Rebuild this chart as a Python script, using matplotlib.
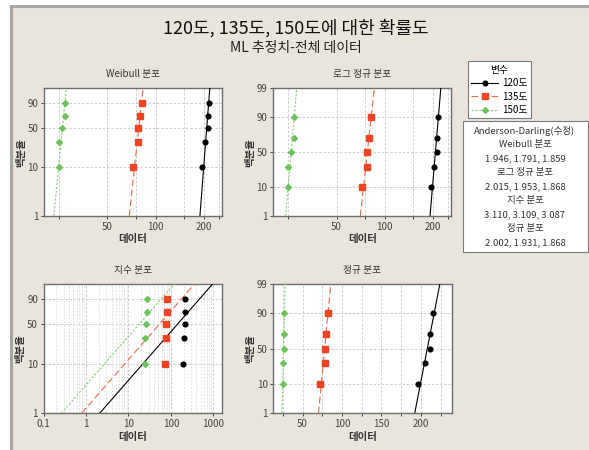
from statistics import NormalDist
import numpy as np
import matplotlib
matplotlib.use("Agg")
import matplotlib.pyplot as plt
from matplotlib.patches import Rectangle
from matplotlib.lines import Line2D

plt.rcParams['font.family'] = ['Noto Sans CJK KR', 'DejaVu Sans']

# 온도별 측정 데이터 (5개씩)
series = ["120도", "135도", "150도"]
data_120 = [196, 205, 212, 212, 215]
data_135 = [72, 78, 78, 80, 82]
data_150 = [25, 25, 26, 27, 27]

# Anderson-Darling(수정) 통계량: 120도, 135도, 150도 순
ad_weibull = [1.946, 1.791, 1.859]
ad_lognormal = [2.015, 1.953, 1.868]
ad_expo = [3.110, 3.109, 3.087]
ad_normal = [2.002, 1.931, 1.868]

pct_short = [1, 10, 50, 90]
pct_full = [1, 10, 50, 90, 99]
pct_grid = [10, 50, 90]

colors = ['black', '#EE4424', '#6CC35A']
line_colors = ['black', '#F06A4A', '#86CF76']
markers = ['o', 's', 'D']
msizes = [3.4, 3.7, 3.0]
lstyles = ['-', (0, (6, 3)), (0, (2, 1.5))]

W, H = 589, 450
nd = NormalDist()


def smallest_ev(p):
    p = np.asarray(p, float) / 100
    return np.log(-np.log(1 - p))


def norm_q(p):
    return np.array([nd.inv_cdf(v / 100) for v in np.atleast_1d(p)])


def weibull_fit(x):
    x = np.asarray(x, float)
    lx = np.log(x)
    s = x / x.max()

    def g(k):
        w = s ** k
        return np.sum(w * lx) / np.sum(w) - 1 / k - lx.mean()

    lo, hi = 0.05, 500.0
    for _ in range(100):
        mid = 0.5 * (lo + hi)
        if g(mid) > 0:
            hi = mid
        else:
            lo = mid
    k = 0.5 * (lo + hi)
    lam = x.max() * np.mean(s ** k) ** (1 / k)
    return k, lam


def fit_line(x, kind):
    x = np.asarray(x, float)
    ends = np.array([1.0, 99.0])
    if kind == 'weibull':
        k, lam = weibull_fit(x)
        return lam * np.exp(smallest_ev(ends) / k), smallest_ev(ends)
    if kind == 'expo':
        theta = x.mean()
        return theta * np.exp(smallest_ev(ends)), smallest_ev(ends)
    if kind == 'lognormal':
        mu, sd = np.log(x).mean(), np.log(x).std()
        return np.exp(mu + sd * norm_q(ends)), norm_q(ends)
    mu, sd = x.mean(), x.std()
    return mu + sd * norm_q(ends), norm_q(ends)


def panel(rect, title, kind):
    ax = fig.add_axes(rect)
    ax.set_facecolor('white')
    ytf = smallest_ev if kind in ('weibull', 'expo') else norm_q
    yv = lambda p: np.ravel(ytf(p))
    for i, d in enumerate([data_120, data_135, data_150]):
        n = len(d)
        pp = (np.arange(1, n + 1) - 0.5) / n * 100
        lx, ly = fit_line(d, kind)
        ax.plot(lx, ly, color=line_colors[i], lw=0.8, ls=lstyles[i], zorder=3)
        ax.plot(sorted(d), yv(pp), ls='none', marker=markers[i], ms=msizes[i],
                color=colors[i], mec=colors[i], zorder=4)

    ax.set_ylim(yv(1)[0], yv(99)[0])
    yt = pct_short if kind in ('weibull', 'expo') else pct_full
    ax.set_yticks(yv(yt))
    ax.set_yticklabels([str(v) for v in yt])
    for g in pct_grid:
        ax.axhline(yv(g)[0], color='#C8C8C8', lw=0.6, ls=(0, (3, 2)), zorder=1)

    if kind in ('weibull', 'lognormal'):
        ax.set_xscale('log')
        ax.set_xlim(20, 262)
        gx = [25, 50, 75, 100, 150, 200, 250]
        ax.set_xticks(gx)
        ax.set_xticklabels(['', '50', '', '100', '', '200', ''])
        ax.minorticks_off()
        for g in gx:
            ax.axvline(g, color='#C8C8C8', lw=0.6, ls=(0, (3, 2)), zorder=1)
    elif kind == 'expo':
        ax.set_xscale('log')
        ax.set_xlim(0.1, 1600)
        ax.set_xticks([0.1, 1, 10, 100, 1000])
        ax.set_xticklabels(['0.1', '1', '10', '100', '1000'])
        ax.xaxis.set_minor_locator(matplotlib.ticker.LogLocator(base=10, subs=np.arange(2, 10)))
        ax.tick_params(axis='x', which='minor', length=0)
        ax.grid(axis='x', which='major', color='#C4C4C4', lw=0.6, ls=(0, (3, 2)), zorder=1)
        ax.grid(axis='x', which='minor', color='#D8D8D8', lw=0.5, ls=(0, (3, 2)), zorder=1)
    else:
        ax.set_xlim(13, 239)
        gx = [25, 50, 75, 100, 125, 150, 175, 200, 225]
        ax.set_xticks(gx)
        ax.set_xticklabels(['', '50', '', '100', '', '150', '', '200', ''])
        for g in gx:
            ax.axvline(g, color='#C8C8C8', lw=0.6, ls=(0, (3, 2)), zorder=1)
    ax.set_axisbelow(True)

    for s in ax.spines.values():
        s.set_color('#6E6E6E')
        s.set_linewidth(1.0)
    ax.tick_params(labelsize=7, colors='#444444', length=2.5, width=0.7, pad=1.5)
    ax.set_title(title, fontsize=7, color='#333333', pad=8)
    ax.set_xlabel('데이터', fontsize=7.5, fontweight='bold', color='#333333', labelpad=2)
    ax.set_ylabel('백분율', fontsize=7.5, fontweight='bold', color='#333333')
    ax.yaxis.set_label_coords(-0.10, 0.5)
    return ax


fig = plt.figure(figsize=(W / 100, H / 100), dpi=100, facecolor='white')
fig.patches.append(Rectangle((11 / W, -0.02), 1.0, (H - 6) / H + 0.02, transform=fig.transFigure,
                             facecolor='#E9E5DC', edgecolor='#A6A6A6', lw=2.2, zorder=-10))

pw = 0.303
top_b, top_h = (H - 216) / H, (216 - 88.3) / H
bot_b, bot_h = (H - 413.3) / H, (413.3 - 284) / H
panel([0.0745, top_b, pw, top_h], 'Weibull 분포', 'weibull')
panel([0.4635, top_b, pw, top_h], '로그 정규 분포', 'lognormal')
panel([0.0740, bot_b, pw, bot_h], '지수 분포', 'expo')
panel([0.4640, bot_b, pw, bot_h], '정규 분포', 'normal')

fig.text(296 / W, 1 - 28 / H, '120도, 135도, 150도에 대한 확률도', ha='center', va='center',
         fontsize=13, color='#111111')
fig.text(296 / W, 1 - 48 / H, 'ML 추정치-전체 데이터', ha='center', va='center',
         fontsize=10, color='#222222')

handles = [Line2D([], [], color=line_colors[i], ls=lstyles[i], lw=0.8, marker=markers[i],
                  ms=msizes[i], mfc=colors[i], mec=colors[i]) for i in range(3)]
leg = fig.legend(handles, series, title='변수', loc='upper left',
                 bbox_to_anchor=(463 / W, 1 - 56.5 / H), fontsize=7, title_fontsize=7,
                 frameon=True, fancybox=False, edgecolor='#7A7A7A', framealpha=1,
                 handlelength=2.8, borderpad=0.35, labelspacing=0.35, handletextpad=0.4)
leg.get_frame().set_linewidth(0.8)

# Anderson-Darling 적합도 상자
fig.patches.append(Rectangle((463 / W, 1 - 251.7 / H), (587.5 - 463) / W, (251.7 - 120.7) / H,
                             transform=fig.transFigure, facecolor='white',
                             edgecolor='#7A7A7A', lw=0.8))
fmt = lambda vals: ', '.join(f'{v:.3f}' for v in vals)
ad_lines = ['Anderson-Darling(수정)', 'Weibull 분포', fmt(ad_weibull), '로그 정규 분포',
            fmt(ad_lognormal), '지수 분포', fmt(ad_expo), '정규 분포', fmt(ad_normal)]
for j, t in enumerate(ad_lines):
    fig.text(525 / W, 1 - (130.5 + 14 * j) / H, t, ha='center', va='center',
             fontsize=6.8, color='#333333')

fig.savefig('out.png', dpi=100, facecolor=fig.get_facecolor())
